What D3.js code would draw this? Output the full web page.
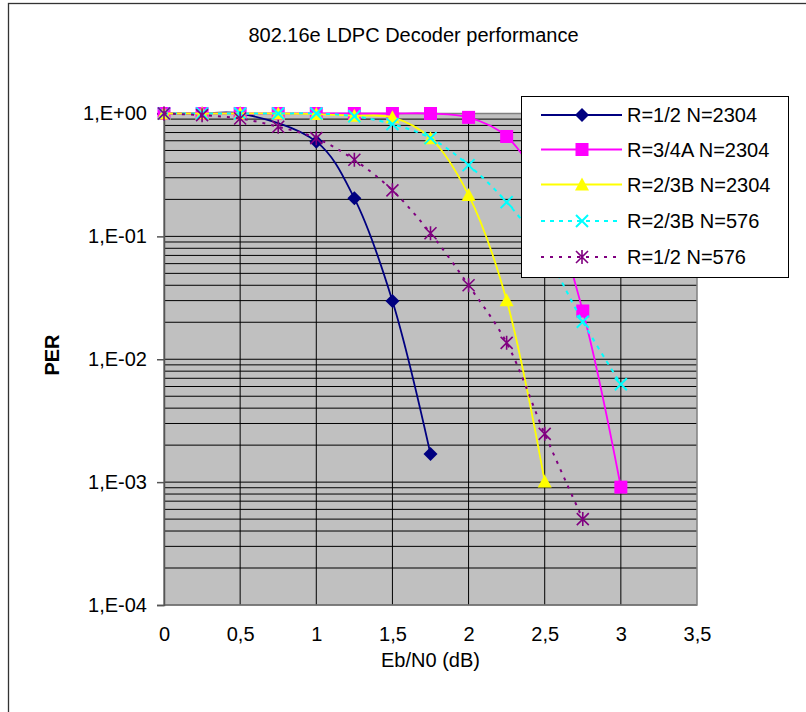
<!DOCTYPE html>
<html>
<head>
<meta charset="utf-8">
<script src="https://cdn.jsdelivr.net/npm/d3@7"></script>
<style>
    body { margin: 0; background: #fff; }
    text { font-family: "Liberation Sans", Arial, sans-serif; }
</style>
</head>
<body>
<div id="chart"></div>
<script>
// values (PER vs Eb/N0)
const xTicks = [0, 0.5, 1, 1.5, 2, 2.5, 3, 3.5];
const xTickLabels = ['0', '0,5', '1', '1,5', '2', '2,5', '3', '3,5'];
const yTicks = [1, 1e-1, 1e-2, 1e-3, 1e-4];
const yTickLabels = ['1,E+00', '1,E-01', '1,E-02', '1,E-03', '1,E-04'];

const seriesNames = ['R=1/2 N=2304', 'R=3/4A N=2304', 'R=2/3B N=2304', 'R=2/3B N=576', 'R=1/2 N=576'];

const ebN0_r12_2304 = [0, 0.25, 0.5, 1, 1.25, 1.5, 1.75];
const per_r12_2304 = [1, 1, 1, 0.59, 0.204, 0.0298, 0.00169];

const ebN0_r34a_2304 = [0, 0.25, 0.5, 0.75, 1, 1.25, 1.5, 1.75, 2, 2.25, 2.5, 2.75, 3];
const per_r34a_2304 = [1, 1, 1, 1, 1, 1, 1, 1, 0.93, 0.65, 0.22, 0.0247, 0.00091];

const ebN0_r23b_2304 = [0, 0.25, 0.5, 0.75, 1, 1.25, 1.5, 1.75, 2, 2.25, 2.5];
const per_r23b_2304 = [1, 1, 1, 1, 0.99, 0.96, 0.93, 0.63, 0.217, 0.0302, 0.00101];

const ebN0_r23b_576 = [0, 0.25, 0.5, 0.75, 1, 1.25, 1.5, 1.75, 2, 2.25, 2.5, 2.75, 3];
const per_r23b_576 = [1, 1, 1, 1, 1, 0.95, 0.82, 0.63, 0.38, 0.19, 0.075, 0.0202, 0.00626];

const ebN0_r12_576 = [0, 0.25, 0.5, 0.75, 1, 1.25, 1.5, 1.75, 2, 2.25, 2.5, 2.75];
const per_r12_576 = [1, 0.97, 0.91, 0.78, 0.63, 0.42, 0.237, 0.106, 0.040, 0.0136, 0.00247, 0.0005];

const svgWidth = 806;
const svgHeight = 712;

const svg = d3.select('#chart')
    .append('svg')
    .attr('width', svgWidth)
    .attr('height', svgHeight);

// chart frame
svg.append('rect')
    .attr('x', 8.5).attr('y', 3.5)
    .attr('width', 800).attr('height', 730)
    .attr('fill', 'white')
    .attr('stroke', '#333')
    .attr('stroke-width', 1.3);

const plot = {l: 164, r: 697, t: 113.5, b: 605};

const x = d3.scaleLinear().domain([0, 3.5]).range([plot.l, plot.r]);
const y = d3.scaleLog().domain([1e-4, 1]).range([plot.b, plot.t]);

// plot area
svg.append('rect')
    .attr('x', plot.l).attr('y', plot.t)
    .attr('width', plot.r - plot.l).attr('height', plot.b - plot.t)
    .attr('fill', '#c0c0c0');

// horizontal gridlines: every 1..9 x 10^k
const yGrid = [];
for (let k = -4; k < 0; k++) {
    for (let m = 1; m < 10; m++) yGrid.push(m * Math.pow(10, k));
}
yGrid.push(1);

svg.append('g')
    .selectAll('line')
    .data(yGrid)
    .join('line')
    .attr('x1', plot.l).attr('x2', plot.r)
    .attr('y1', d => y(d)).attr('y2', d => y(d))
    .attr('stroke', '#000')
    .attr('stroke-width', 1);

// vertical gridlines
svg.append('g')
    .selectAll('line')
    .data(xTicks.filter(d => d > 0 && d < 3.5))
    .join('line')
    .attr('x1', d => x(d)).attr('x2', d => x(d))
    .attr('y1', plot.t).attr('y2', plot.b)
    .attr('stroke', '#000')
    .attr('stroke-width', 1);

// plot border
svg.append('rect')
    .attr('x', plot.l).attr('y', plot.t)
    .attr('width', plot.r - plot.l).attr('height', plot.b - plot.t)
    .attr('fill', 'none')
    .attr('stroke', '#808080')
    .attr('stroke-width', 1.5);

// y axis
const yAxis = svg.append('g')
    .attr('transform', `translate(${plot.l},0)`)
    .call(d3.axisLeft(y)
        .tickValues(yTicks)
        .tickSize(7)
        .tickPadding(10)
        .tickFormat((d, i) => yTickLabels[i]));
yAxis.select('.domain').attr('stroke', '#555').attr('stroke-width', 1.5);
yAxis.selectAll('.tick line').attr('stroke', '#555').attr('stroke-width', 1.5);
yAxis.selectAll('.tick text')
    .style('font-size', '20px')
    .style('font-family', '"Liberation Sans", Arial, sans-serif')
    .attr('fill', '#000');

// x axis labels
const xAxis = svg.append('g')
    .attr('transform', `translate(0,${plot.b})`)
    .call(d3.axisBottom(x)
        .tickValues(xTicks)
        .tickSize(0)
        .tickPadding(22)
        .tickFormat((d, i) => xTickLabels[i]));
xAxis.select('.domain').remove();
xAxis.selectAll('.tick text')
    .style('font-size', '20px')
    .style('font-family', '"Liberation Sans", Arial, sans-serif')
    .attr('fill', '#000');

// series
const series = [
    {name: seriesNames[0], xs: ebN0_r12_2304, vs: per_r12_2304, color: '#000080', dash: null, marker: 'diamond'},
    {name: seriesNames[1], xs: ebN0_r34a_2304, vs: per_r34a_2304, color: '#ff00ff', dash: null, marker: 'square'},
    {name: seriesNames[2], xs: ebN0_r23b_2304, vs: per_r23b_2304, color: '#ffff00', dash: null, marker: 'triangle'},
    {name: seriesNames[3], xs: ebN0_r23b_576, vs: per_r23b_576, color: '#00ffff', dash: '4,5', marker: 'x'},
    {name: seriesNames[4], xs: ebN0_r12_576, vs: per_r12_576, color: '#800080', dash: '3,6', marker: 'star'}
];

function drawMarker(g, type, color) {
    if (type === 'diamond') {
        g.append('path').attr('d', 'M0,-7L7,0L0,7L-7,0Z').attr('fill', color);
    } else if (type === 'square') {
        g.append('rect').attr('x', -6.5).attr('y', -6.5).attr('width', 13).attr('height', 13).attr('fill', color);
    } else if (type === 'triangle') {
        g.append('path').attr('d', 'M0,-7L7,6L-7,6Z').attr('fill', color);
    } else if (type === 'x') {
        g.append('path').attr('d', 'M-6,-6L6,6M-6,6L6,-6')
            .attr('stroke', color).attr('stroke-width', 2).attr('fill', 'none');
    } else if (type === 'star') {
        g.append('path').attr('d', 'M-6,-6L6,6M-6,6L6,-6M0,-7L0,7')
            .attr('stroke', color).attr('stroke-width', 1.6).attr('fill', 'none');
    }
}

const line = d3.line()
    .x(d => x(d[0]))
    .y(d => y(d[1]))
    .curve(d3.curveCatmullRom.alpha(0.5));

series.forEach(s => {
    const pts = s.xs.map((v, i) => [v, s.vs[i]]);
    const g = svg.append('g');
    g.append('path')
        .datum(pts)
        .attr('d', line)
        .attr('fill', 'none')
        .attr('stroke', s.color)
        .attr('stroke-width', s.dash ? 2 : 1.8)
        .attr('stroke-dasharray', s.dash);
    g.selectAll('g.m')
        .data(pts)
        .join('g')
        .attr('class', 'm')
        .attr('transform', d => `translate(${x(d[0])},${y(d[1])})`)
        .each(function () { drawMarker(d3.select(this), s.marker, s.color); });
});

// legend
const legend = svg.append('g');
legend.append('rect')
    .attr('x', 521.5).attr('y', 96.5)
    .attr('width', 267).attr('height', 181)
    .attr('fill', 'white')
    .attr('stroke', '#000')
    .attr('stroke-width', 1);

const legendY = [115, 149.5, 184.5, 221, 257];
series.forEach((s, i) => {
    const row = legend.append('g').attr('transform', `translate(0,${legendY[i]})`);
    row.append('line')
        .attr('x1', 541).attr('x2', 622)
        .attr('stroke', s.color)
        .attr('stroke-width', 2)
        .attr('stroke-dasharray', s.dash);
    drawMarker(row.append('g').attr('transform', 'translate(582,0)'), s.marker, s.color);
    row.append('text')
        .attr('x', 627)
        .attr('y', 7)
        .style('font-size', '20px')
        .text(s.name);
});

// titles
svg.append('text')
    .attr('x', 413.5)
    .attr('y', 42)
    .attr('text-anchor', 'middle')
    .style('font-size', '20px')
    .text('802.16e LDPC Decoder performance');

svg.append('text')
    .attr('x', 430.5)
    .attr('y', 667)
    .attr('text-anchor', 'middle')
    .style('font-size', '20px')
    .text('Eb/N0 (dB)');

svg.append('text')
    .attr('transform', 'translate(59,355) rotate(-90)')
    .attr('text-anchor', 'middle')
    .style('font-size', '20px')
    .style('font-weight', 'bold')
    .text('PER');
</script>
</body>
</html>
